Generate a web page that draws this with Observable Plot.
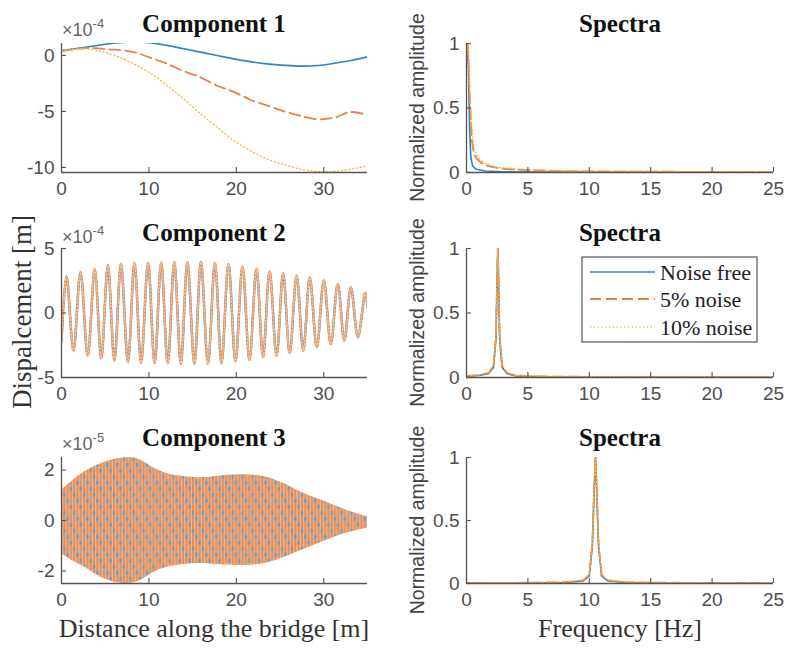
<!DOCTYPE html>
<html>
<head>
<meta charset="utf-8">
<script src="https://cdn.jsdelivr.net/npm/d3@7"></script>
<script src="https://cdn.jsdelivr.net/npm/@observablehq/plot@0.6"></script>
<style>
  html, body { margin: 0; padding: 0; background: #fff; }
  #fig { position: relative; width: 787px; height: 648px; overflow: hidden; background: #fff; }
  #fig > svg { position: absolute; left: 0; top: 0; }
</style>
</head>
<body>
<svg width="0" height="0" style="position:absolute">
  <defs>
    <pattern id="weave" patternUnits="userSpaceOnUse" width="9.9" height="18">
      <rect x="0" y="0" width="9.9" height="18" fill="#F4B890"/>
      <rect x="0.7" y="0" width="2" height="18" fill="#EC8A4E"/>
      <rect x="4.0" y="0" width="2" height="18" fill="#EC8A4E"/>
      <rect x="7.3" y="0" width="2" height="18" fill="#EC8A4E"/>
      <rect x="0.5" y="1" width="2.3" height="3.6" fill="#5A9FD4"/>
      <rect x="3.8" y="7" width="2.3" height="3.6" fill="#5A9FD4"/>
      <rect x="7.1" y="13" width="2.3" height="3.6" fill="#5A9FD4"/>
      <rect x="0.9" y="11" width="1.6" height="2.2" fill="#78B0DB"/>
      <rect x="4.2" y="15.5" width="1.6" height="2" fill="#78B0DB"/>
    </pattern>
  </defs>
</svg>
<div id="fig"></div>
<script>
// ---------------- DATA ----------------
const seriesNames = ["Noise free", "5% noise", "10% noise"];

// Component 1 (x 10^-4 m) vs distance [m]
const comp1X      = [0, 2.9, 5.5, 8, 10.5, 12.1, 14, 15.9, 17.8, 19.7, 21.6, 23.5, 25.5, 27.4, 29.3, 31.2, 33.1, 35];
const comp1Free   = [0.45, 0.75, 1.05, 1.2, 1.1, 0.9, 0.6, 0.3, 0, -0.3, -0.55, -0.75, -0.88, -0.95, -0.9, -0.7, -0.45, -0.12];
const comp1Noise5 = [0.4, 0.65, 0.55, 0.35, -0.3, -0.75, -1.4, -1.95, -2.7, -3.25, -3.95, -4.45, -5.0, -5.4, -5.7, -5.55, -5.05, -5.3];
const comp1Noise10= [0.45, 0.6, 0.15, -0.65, -1.75, -2.7, -3.9, -5.2, -6.4, -7.6, -8.5, -9.25, -9.75, -10.15, -10.35, -10.35, -10.15, -9.85];

// Component 2 (x 10^-4 m): successive extrema
const comp2X = [0, 0.57, 1.37, 2.17, 3.0, 3.8, 4.55, 5.3, 6.05, 6.8, 7.6, 8.35, 9.1, 9.9, 10.65, 11.4, 12.15, 12.9, 13.65, 14.4, 15.2,
                15.95, 16.75, 17.55, 18.3, 19.1, 19.9, 20.7, 21.5, 22.3, 23.05, 23.8, 24.6, 25.35, 26.1, 26.9, 27.65, 28.4, 29.2,
                30.0, 30.8, 31.6, 32.35, 33.1, 33.9, 34.75, 35];
const comp2Y = [-2.2, 2.83, -2.9, 3.16, -3.3, 3.4, -3.5, 3.68, -3.68, 3.8, -3.8, 3.86, -3.85, 3.88, -3.88, 3.9, -3.9, 3.92, -3.92, 3.94, -3.92,
                3.95, -3.92, 3.9, -3.9, 3.78, -3.73, 3.6, -3.63, 3.42, -3.42, 3.24, -3.3, 3.09, -3.1, 2.9, -2.9, 2.73, -2.65,
                2.52, -2.4, 2.26, -2.13, 2.0, -1.88, 1.6, 0.45];

// Component 3 (x 10^-5 m): envelope of the dense oscillation
const comp3X     = [0, 1, 2.6, 4.5, 6.4, 8.3, 9.4, 10.6, 12.1, 14, 15.9, 17.8, 19.7, 21.6, 23.5, 25.5, 27.4, 29.3, 31.2, 33.1, 35];
const comp3Upper = [1.2, 1.5, 1.92, 2.25, 2.45, 2.48, 2.33, 2.07, 1.86, 1.75, 1.7, 1.76, 1.81, 1.81, 1.72, 1.46, 1.12, 0.86, 0.6, 0.35, 0.15];
const comp3Lower = [-1.32, -1.55, -1.85, -2.25, -2.47, -2.47, -2.31, -2.05, -1.86, -1.75, -1.71, -1.75, -1.78, -1.78, -1.69, -1.46, -1.19, -0.92, -0.66, -0.46, -0.3];

// Spectra (normalized amplitude vs frequency [Hz])
const spec1FreeF = [0, 0.12, 0.25, 0.35, 0.5, 0.8, 1.5, 3, 6, 25];
const spec1FreeA = [0.85, 1, 0.35, 0.12, 0.05, 0.025, 0.012, 0.006, 0.003, 0.001];
const spec1N5F   = [0, 0.12, 0.25, 0.35, 0.45, 0.6, 0.8, 1.2, 1.8, 2.5, 3.5, 5, 7, 10, 15, 20, 25];
const spec1N5A   = [0.88, 1, 0.62, 0.4, 0.24, 0.15, 0.11, 0.075, 0.05, 0.035, 0.025, 0.018, 0.012, 0.008, 0.006, 0.005, 0.004];
const spec1N10F  = [0, 0.12, 0.25, 0.4, 0.6, 0.9, 1.5, 2.5, 4, 6, 10, 25];
const spec1N10A  = [0.9, 1, 0.68, 0.38, 0.19, 0.12, 0.07, 0.04, 0.028, 0.018, 0.01, 0.006];

const spec2FreeF = [0, 1.0, 1.8, 2.2, 2.4, 2.5, 2.55, 2.6, 2.7, 2.9, 3.3, 4, 6, 25];
const spec2FreeA = [0.01, 0.015, 0.03, 0.08, 0.3, 0.8, 1, 0.8, 0.3, 0.08, 0.03, 0.012, 0.005, 0.002];
const spec2N5F   = [0, 1.0, 1.8, 2.2, 2.4, 2.5, 2.55, 2.6, 2.7, 2.9, 3.3, 4, 6, 10, 25];
const spec2N5A   = [0.012, 0.018, 0.035, 0.09, 0.32, 0.82, 1, 0.82, 0.32, 0.09, 0.035, 0.015, 0.008, 0.005, 0.003];
const spec2N10F  = [0, 1.0, 1.8, 2.2, 2.4, 2.5, 2.55, 2.6, 2.7, 2.9, 3.3, 4, 6, 10, 25];
const spec2N10A  = [0.014, 0.02, 0.04, 0.1, 0.33, 0.83, 1, 0.83, 0.33, 0.1, 0.04, 0.018, 0.01, 0.006, 0.004];

const spec3FreeF = [0, 5, 8, 9.5, 10, 10.25, 10.4, 10.5, 10.6, 10.75, 11, 11.5, 13, 16, 25];
const spec3FreeA = [0.002, 0.004, 0.008, 0.02, 0.06, 0.3, 0.75, 1, 0.75, 0.3, 0.06, 0.02, 0.008, 0.004, 0.002];
const spec3N5F   = [0, 5, 8, 9.5, 10, 10.25, 10.4, 10.5, 10.6, 10.75, 11, 11.5, 13, 16, 25];
const spec3N5A   = [0.004, 0.006, 0.01, 0.025, 0.07, 0.32, 0.78, 1, 0.78, 0.32, 0.07, 0.025, 0.01, 0.006, 0.004];
const spec3N10F  = [0, 5, 8, 9.5, 10, 10.25, 10.4, 10.5, 10.6, 10.75, 11, 11.5, 13, 16, 25];
const spec3N10A  = [0.005, 0.007, 0.012, 0.028, 0.075, 0.33, 0.8, 1, 0.8, 0.33, 0.075, 0.028, 0.012, 0.007, 0.005];

// Tick labels
const distTicks = [0, 10, 20, 30];
const freqTicks = [0, 5, 10, 15, 20, 25];
const ampTicks = [0, 0.5, 1];
const comp1Ticks = [-10, -5, 0];
const comp2Ticks = [-5, 0, 5];
const comp3Ticks = [-2, 0, 2];

// ---------------- DRAWING ----------------
const W = 787, H = 648;
const lineStyles = [
  {stroke: "#2C84C6", strokeWidth: 1.6},
  {stroke: "#E8804A", strokeWidth: 1.8, strokeDasharray: "11,5"},
  {stroke: "#F0BA45", strokeWidth: 1.3, strokeDasharray: "1.2,2.6"}
];
const denseStyles = [
  {stroke: "#4C9CD4", strokeWidth: 2.4},
  {stroke: "#EE9460", strokeWidth: 2.4, strokeDasharray: "5,3"},
  {stroke: "#F6C79A", strokeWidth: 1.4, strokeDasharray: "1.2,2.4"}
];
const toRows = (xs, ys) => xs.map((x, i) => ({x, y: ys[i]}));
const line = (xs, ys, style, curve = "linear") =>
  Plot.line(toRows(xs, ys), {x: "x", y: "y", curve, clip: true, ...style});

function panel({box, xDomain, yDomain, xTicks, yTicks, marks}) {
  const [x0, y0, x1, y1] = box;
  const fw = x1 - x0, fh = y1 - y0;
  return Plot.plot({
    width: W, height: H,
    marginLeft: x0, marginRight: W - x1, marginTop: y0, marginBottom: H - y1,
    style: {background: "transparent", color: "#4e4e4e", fontFamily: "'Liberation Sans', Arial, sans-serif", fontSize: "19px", overflow: "visible"},
    x: {domain: xDomain, label: null},
    y: {domain: yDomain, label: null},
    marks: [
      ...marks,
      Plot.ruleX([xDomain[0]], {stroke: "#555", strokeWidth: 1.3}),
      Plot.ruleY([yDomain[0]], {stroke: "#555", strokeWidth: 1.3}),
      Plot.tickX(xTicks, {x: d => d, insetTop: fh - 5, stroke: "#555", strokeWidth: 1.1}),
      Plot.tickY(yTicks, {y: d => d, insetRight: fw - 5, stroke: "#555", strokeWidth: 1.1}),
      Plot.axisX({ticks: xTicks, tickSize: 0, tickPadding: 9, label: null, tickFormat: d => String(d), fontSize: 19}),
      Plot.axisY({ticks: yTicks, tickSize: 0, tickPadding: 7, label: null, tickFormat: d => String(d), fontSize: 19})
    ]
  });
}

const fig = document.getElementById("fig");
const leftX = [61, 367], rightX = [466, 773];
const rows = [[43, 172], [248, 377], [457, 583]];

// Component 1
fig.append(panel({
  box: [leftX[0], rows[0][0], leftX[1], rows[0][1]],
  xDomain: [0, 35], yDomain: [-10.45, 1.07], xTicks: distTicks, yTicks: comp1Ticks,
  marks: [
    line(comp1X, comp1Free, lineStyles[0], "catmull-rom"),
    line(comp1X, comp1Noise5, lineStyles[1], "catmull-rom"),
    line(comp1X, comp1Noise10, lineStyles[2], "catmull-rom")
  ]
}));
// Component 2
fig.append(panel({
  box: [leftX[0], rows[1][0], leftX[1], rows[1][1]],
  xDomain: [0, 35], yDomain: [-5, 5], xTicks: distTicks, yTicks: comp2Ticks,
  marks: denseStyles.map(s => line(comp2X, comp2Y, s, "catmull-rom"))
}));
// Component 3
fig.append(panel({
  box: [leftX[0], rows[2][0], leftX[1], rows[2][1]],
  xDomain: [0, 35], yDomain: [-2.5, 2.5], xTicks: distTicks, yTicks: comp3Ticks,
  marks: [
    Plot.areaY(comp3X.map((x, i) => ({x, lo: comp3Lower[i], hi: comp3Upper[i]})),
      {x: "x", y1: "lo", y2: "hi", curve: "catmull-rom", fill: "url(#weave)", clip: true})
  ]
}));
// Spectra
const specs = [
  [[spec1FreeF, spec1FreeA], [spec1N5F, spec1N5A], [spec1N10F, spec1N10A]],
  [[spec2FreeF, spec2FreeA], [spec2N5F, spec2N5A], [spec2N10F, spec2N10A]],
  [[spec3FreeF, spec3FreeA], [spec3N5F, spec3N5A], [spec3N10F, spec3N10A]]
];
specs.forEach((sp, r) => {
  fig.append(panel({
    box: [rightX[0], rows[r][0], rightX[1], rows[r][1]],
    xDomain: [0, 25], yDomain: [0, 1], xTicks: freqTicks, yTicks: ampTicks,
    marks: sp.map(([f, a], k) => line(f, a, lineStyles[k]))
  }));
});

// ---------------- TEXT OVERLAY ----------------
const ns = "http://www.w3.org/2000/svg";
const ov = document.createElementNS(ns, "svg");
ov.setAttribute("width", W); ov.setAttribute("height", H);
fig.append(ov);
function txt(s, attrs, parent = ov) {
  const t = document.createElementNS(ns, "text");
  for (const k in attrs) t.setAttribute(k, attrs[k]);
  t.textContent = s;
  parent.append(t);
  return t;
}
const serif = "'Liberation Serif', 'Times New Roman', serif";
const sans = "'Liberation Sans', Arial, sans-serif";
const titles = [["Component 1", 214, 32], ["Component 2", 214, 241], ["Component 3", 214, 446],
                ["Spectra", 620, 32], ["Spectra", 620, 241], ["Spectra", 620, 446]];
titles.forEach(([s, x, y]) => txt(s, {x, y, "text-anchor": "middle", "font-family": serif, "font-weight": "bold", "font-size": 25, fill: "#111"}));

// exponent labels
[["-4", 36], ["-4", 243], ["-5", 450]].forEach(([e, y]) => {
  const t = txt("\u00d710", {x: 62, y, "font-family": sans, "font-size": 18, fill: "#666"});
  const sp = document.createElementNS(ns, "tspan");
  sp.setAttribute("dy", -8); sp.setAttribute("font-size", 13);
  sp.textContent = e; t.append(sp);
});

// axis labels
txt("Dispalcement [m]", {transform: "translate(31,312) rotate(-90)", "text-anchor": "middle", "font-family": serif, "font-size": 27, fill: "#333"});
rows.forEach(([a, b]) => txt("Normalized amplitude", {transform: `translate(424,${(a + b) / 2}) rotate(-90)`, "text-anchor": "middle", "font-family": sans, "font-size": 19.5, fill: "#444"}));
txt("Distance along the bridge [m]", {x: 214, y: 637, "text-anchor": "middle", "font-family": serif, "font-size": 26, fill: "#333"});
txt("Frequency [Hz]", {x: 620, y: 637, "text-anchor": "middle", "font-family": serif, "font-size": 26, fill: "#333"});

// legend
const lg = document.createElementNS(ns, "g");
ov.append(lg);
const box = document.createElementNS(ns, "rect");
Object.entries({x: 582, y: 257, width: 175, height: 85, fill: "#fff", stroke: "#333", "stroke-width": 1}).forEach(([k, v]) => box.setAttribute(k, v));
lg.append(box);
[272, 299, 327].forEach((y, k) => {
  const l = document.createElementNS(ns, "line");
  const st = lineStyles[k];
  Object.entries({x1: 590, x2: 655, y1: y, y2: y, stroke: st.stroke, "stroke-width": st.strokeWidth, "stroke-dasharray": st.strokeDasharray || "none"}).forEach(([a, v]) => l.setAttribute(a, v));
  lg.append(l);
  txt(seriesNames[k], {x: 660, y: y + 8, "font-family": serif, "font-size": 22, fill: "#222"}, lg);
});
</script>
</body>
</html>
